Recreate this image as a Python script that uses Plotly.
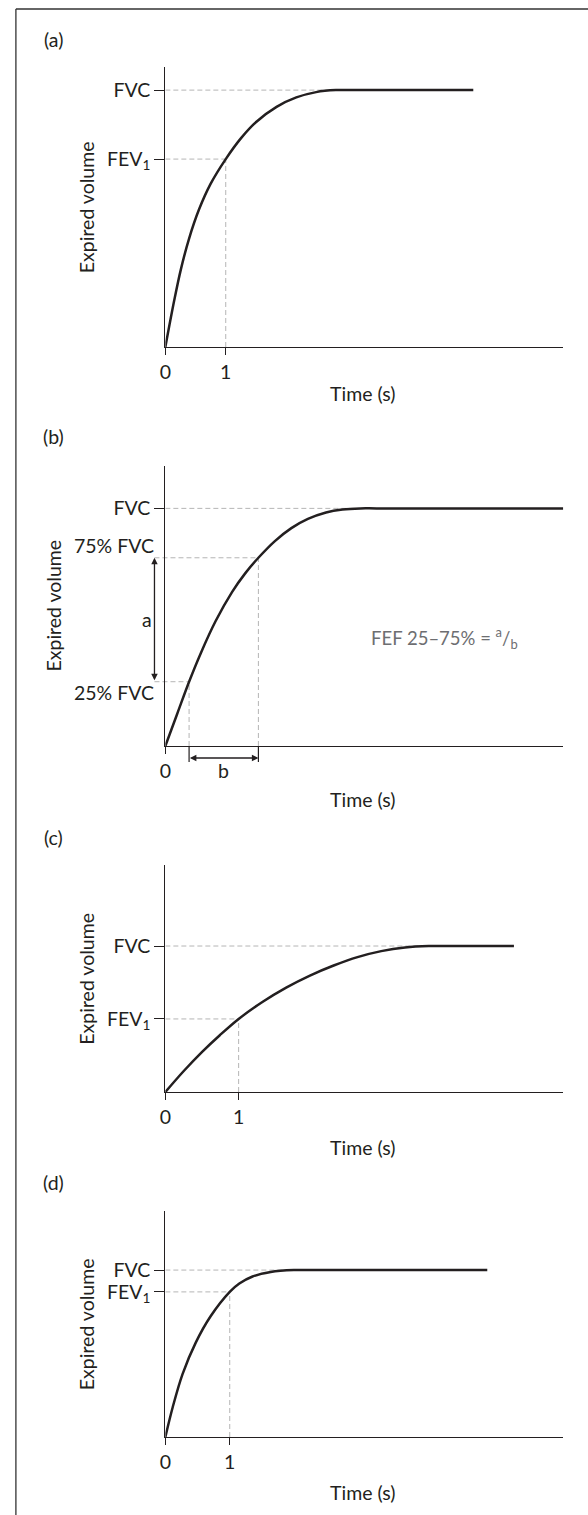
import plotly.graph_objects as go

# ---- data (time in s, expired volume in L) ----
panel_labels = ["(a)", "(b)", "(c)", "(d)"]

time_a = [0, 0.148, 0.257, 0.393, 0.557, 0.749, 1.00, 1.257, 1.514, 1.842, 2.169, 2.497, 2.825, 3.10, 5.10]
vol_a = [0, 0.73, 1.209, 1.689, 2.140, 2.540, 2.926, 3.256, 3.512, 3.740, 3.886, 3.969, 4.00, 4.00, 4.00]

time_b = [0, 0.197, 0.393, 0.585, 0.831, 1.104, 1.322, 1.541, 1.814, 2.087, 2.361, 2.661, 2.934, 3.23, 3.50, 6.59]
vol_b = [0, 0.503, 1.001, 1.442, 1.942, 2.396, 2.688, 2.931, 3.191, 3.393, 3.536, 3.636, 3.682, 3.70, 3.70, 3.70]

time_c = [0, 0.248, 0.495, 0.743, 1.00, 1.324, 1.649, 1.973, 2.297, 2.622, 2.946, 3.270, 3.595, 3.85, 4.757]
vol_c = [0, 0.323, 0.617, 0.883, 1.136, 1.400, 1.624, 1.811, 1.967, 2.098, 2.191, 2.248, 2.27, 2.27, 2.27]

time_d = [0, 0.113, 0.267, 0.472, 0.703, 1.00, 1.149, 1.354, 1.636, 1.995, 2.25, 5.00]
vol_d = [0, 0.46, 0.98, 1.47, 1.88, 2.26, 2.39, 2.50, 2.57, 2.60, 2.60, 2.60]

fvc = [4.00, 3.70, 2.27, 2.60]
fev1 = [2.926, None, 1.136, 2.26]
plateau_start = [2.825, 3.23, 3.595, 1.995]

# panel (b): 25% / 75% FVC points on the curve
b_v25, b_t25 = 1.001, 0.393
b_v75, b_t75 = 2.931, 1.541

curves = [(time_a, vol_a), (time_b, vol_b), (time_c, vol_c), (time_d, vol_d)]

# ---- layout in pixels ----
W, H = 588, 1515
boxes = [(161, 563, 67, 347), (161, 563, 466, 746), (161, 563, 865, 1092), (161, 563, 1211, 1437)]
xmax = [6.59, 6.59, 5.43, 6.18]
ymax = [4.36, 4.36, 3.53, 3.52]
label_y = [39, 437, 837, 1182]
xtitle_y = [393, 800, 1147, 1492]
ytitle_x = [81, 47, 81, 81]

INK = "#231f20"
GUIDE = "#b5b5b5"
FONT = "Lato"
FS = 19.5


def to_paper(i, t, v):
    x0, x1, y0, y1 = boxes[i]
    px = x0 + (x1 - x0) * t / xmax[i]
    py = y1 - (y1 - y0) * v / ymax[i]
    return px / W, 1 - py / H


def label(text, x, y, **kw):
    d = dict(text=text, x=x, y=y, xref="paper", yref="paper", showarrow=False,
             xanchor="center", yanchor="middle", font=dict(family=FONT, size=FS, color=INK))
    d.update(kw)
    return d


fig = go.Figure()
shapes = []
annotations = []

for i, (tt, vv) in enumerate(curves):
    n = "" if i == 0 else str(i + 1)
    x0, x1, y0, y1 = boxes[i]
    fig.add_trace(go.Scatter(
        x=tt, y=vv, mode="lines", xaxis="x" + n, yaxis="y" + n,
        line=dict(color=INK, width=2.5, shape="spline", smoothing=1.0),
        hoverinfo="skip", showlegend=False,
    ))

    if i == 1:
        xticks, xtext = [0], ["0"]
        yticks, ytext = [fvc[i]], ["FVC"]
    else:
        xticks, xtext = [0, 1], ["0", "1"]
        yticks, ytext = [fev1[i], fvc[i]], ["FEV<sub>1</sub>", "FVC"]

    fig.layout["xaxis" + n] = dict(
        domain=[x0 / W, x1 / W], anchor="y" + n, range=[0, xmax[i]],
        showgrid=False, zeroline=False, showline=True, linecolor=INK, linewidth=1.2,
        ticks="outside", ticklen=7, tickcolor=INK, tickwidth=1,
        tickvals=xticks, ticktext=xtext, tickfont=dict(family=FONT, size=FS, color=INK),
        fixedrange=True,
    )
    fig.layout["yaxis" + n] = dict(
        domain=[1 - y1 / H, 1 - y0 / H], anchor="x" + n, range=[0, ymax[i]],
        showgrid=False, zeroline=False, showline=True, linecolor=INK, linewidth=1.2,
        ticks="outside", ticklen=10, tickcolor=INK, tickwidth=1,
        tickvals=yticks, ticktext=ytext, tickfont=dict(family=FONT, size=FS, color=INK),
        fixedrange=True,
    )

    # dashed guides
    guide = dict(type="line", xref="x" + n, yref="y" + n, layer="below",
                 line=dict(color=GUIDE, width=1, dash="5px,3px"))
    shapes.append(dict(guide, x0=0, x1=plateau_start[i], y0=fvc[i], y1=fvc[i]))
    if fev1[i] is not None:
        shapes.append(dict(guide, x0=0, x1=1, y0=fev1[i], y1=fev1[i]))
        shapes.append(dict(guide, x0=1, x1=1, y0=0, y1=fev1[i]))

    annotations.append(label(panel_labels[i], 48 / W, 1 - label_y[i] / H))
    annotations.append(label("Time (s)", 361 / W, 1 - xtitle_y[i] / H))
    annotations.append(label("Expired volume", ytitle_x[i] / W, 1 - (y0 + y1) / 2 / H, textangle=-90))

# ---- panel (b) extras: FEF 25-75% construction ----
arrow_x = 150 / W
for v, t, ytxt, txt in [(b_v75, b_t75, -12, "75% FVC"), (b_v25, b_t25, 11, "25% FVC")]:
    px, py = to_paper(1, t, v)
    shapes.append(dict(type="line", xref="paper", yref="paper", x0=arrow_x, x1=px, y0=py, y1=py,
                       layer="below", line=dict(color=GUIDE, width=1, dash="5px,3px")))
    shapes.append(dict(type="line", xref="x2", yref="y2", x0=t, x1=t, y0=0, y1=v,
                       layer="below", line=dict(color=GUIDE, width=1, dash="5px,3px")))
    _, pz = to_paper(1, t, 0)
    shapes.append(dict(type="line", xref="paper", yref="paper", x0=px, x1=px, y0=pz, y1=pz - 16 / H,
                       line=dict(color=INK, width=1.2)))
    annotations.append(label(txt, 152 / W, py - ytxt / H, xanchor="right"))

_, p75 = to_paper(1, 0, b_v75)
_, p25 = to_paper(1, 0, b_v25)
annotations.append(dict(text="", x=arrow_x, y=p75, xref="paper", yref="paper",
                        ax=0, ay=(p75 - p25) * H, axref="pixel", ayref="pixel",
                        showarrow=True, arrowside="end+start", arrowhead=2, startarrowhead=2,
                        arrowsize=1, startarrowsize=1, arrowwidth=1.3, arrowcolor=INK))
annotations.append(label("a", 142 / W, (p75 + p25) / 2))

bx25, bz = to_paper(1, b_t25, 0)
bx75, _ = to_paper(1, b_t75, 0)
annotations.append(dict(text="", x=bx75, y=bz - 12 / H, xref="paper", yref="paper",
                        ax=-(bx75 - bx25) * W, ay=0, axref="pixel", ayref="pixel",
                        showarrow=True, arrowside="end+start", arrowhead=2, startarrowhead=2,
                        arrowsize=1, startarrowsize=1, arrowwidth=1.3, arrowcolor=INK))
annotations.append(label("b", (bx25 + bx75) / 2, bz - 25 / H))

annotations.append(label("FEF 25\u201375% = <sup>a</sup>/<sub>b</sub>", 443 / W, 1 - 638 / H,
                         font=dict(family=FONT, size=18.5, color="#6d6e71")))

# outer frame (top and left edges)
shapes.append(dict(type="line", xref="paper", yref="paper", x0=10 / W, x1=1, y0=1 - 9 / H, y1=1 - 9 / H,
                   line=dict(color="#333333", width=1.3)))
shapes.append(dict(type="line", xref="paper", yref="paper", x0=10 / W, x1=10 / W, y0=0, y1=1 - 9 / H,
                   line=dict(color="#333333", width=1.3)))

fig.update_layout(
    width=W, height=H, margin=dict(l=0, r=0, t=0, b=0),
    paper_bgcolor="white", plot_bgcolor="white",
    shapes=shapes, annotations=annotations,
    font=dict(family=FONT, color=INK),
)

fig.write_html("out.html", config={"displayModeBar": False},
               post_script="document.body.style.margin='0';")
